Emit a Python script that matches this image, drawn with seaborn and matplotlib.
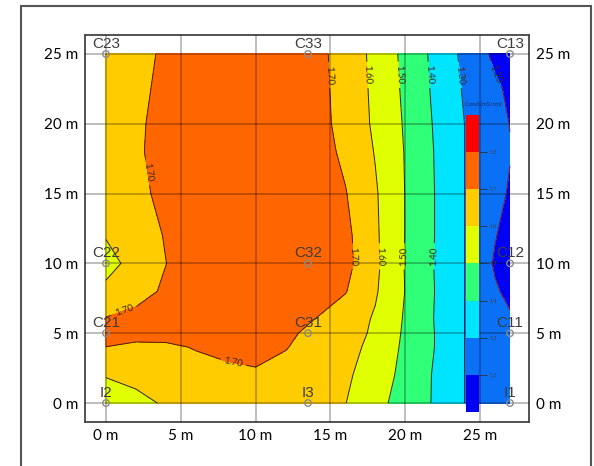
import numpy as np
import pandas as pd
import matplotlib
matplotlib.use("Agg")
import matplotlib.pyplot as plt
import matplotlib.patches as patches
import seaborn as sns

# Grid of conductivity readings (mS/cm)
x_m = [0, 2, 4, 6, 8, 10, 12, 14, 16, 18, 20, 22, 24, 26, 27]
y_m = [0, 2, 4, 5, 6, 8, 10, 12, 15, 18, 20, 22.5, 25]

cond_y0 = [1.55, 1.575, 1.61, 1.63, 1.645, 1.65, 1.645, 1.625, 1.602, 1.53, 1.46, 1.39, 1.298, 1.24, 1.22]
cond_y2 = [1.605, 1.625, 1.65, 1.665, 1.68, 1.69, 1.665, 1.64, 1.615, 1.555, 1.47, 1.39, 1.298, 1.24, 1.22]
cond_y4 = [1.699, 1.685, 1.685, 1.705, 1.72, 1.725, 1.705, 1.66, 1.63, 1.575, 1.48, 1.398, 1.298, 1.24, 1.22]
cond_y5 = [1.73, 1.725, 1.73, 1.735, 1.74, 1.74, 1.715, 1.68, 1.64, 1.585, 1.485, 1.398, 1.298, 1.24, 1.22]
cond_y6 = [1.705, 1.72, 1.73, 1.74, 1.74, 1.74, 1.725, 1.699, 1.65, 1.59, 1.49, 1.395, 1.298, 1.23, 1.21]
cond_y8 = [1.64, 1.675, 1.71, 1.74, 1.75, 1.75, 1.75, 1.74, 1.705, 1.61, 1.498, 1.398, 1.298, 1.21, 1.18]
cond_y10 = [1.54, 1.66, 1.699, 1.74, 1.75, 1.75, 1.75, 1.75, 1.73, 1.62, 1.495, 1.395, 1.298, 1.19, 1.15]
cond_y12 = [1.61, 1.66, 1.705, 1.74, 1.75, 1.75, 1.75, 1.75, 1.725, 1.615, 1.498, 1.398, 1.298, 1.205, 1.165]
cond_y15 = [1.65, 1.685, 1.715, 1.74, 1.75, 1.75, 1.75, 1.75, 1.705, 1.61, 1.498, 1.398, 1.298, 1.23, 1.19]
cond_y18 = [1.66, 1.69, 1.725, 1.74, 1.75, 1.75, 1.75, 1.745, 1.68, 1.595, 1.495, 1.395, 1.298, 1.235, 1.205]
cond_y20 = [1.66, 1.69, 1.72, 1.74, 1.75, 1.75, 1.75, 1.74, 1.665, 1.585, 1.49, 1.39, 1.298, 1.23, 1.198]
cond_y22 = [1.66, 1.685, 1.715, 1.735, 1.745, 1.75, 1.75, 1.735, 1.662, 1.58, 1.482, 1.382, 1.288, 1.215, 1.185]
cond_y25 = [1.66, 1.68, 1.71, 1.73, 1.74, 1.75, 1.75, 1.73, 1.66, 1.575, 1.475, 1.375, 1.275, 1.18, 1.13]

# Sampling points
point_names = ["C23", "C33", "C13", "C22", "C32", "C12", "C21", "C31", "C11", "I2", "I3", "I1"]
point_x = [0, 13.5, 27, 0, 13.5, 27, 0, 13.5, 27, 0, 13.5, 27]
point_y = [25, 25, 25, 10, 10, 10, 5, 5, 5, 0, 0, 0]

levels = [1.0, 1.2, 1.3, 1.4, 1.5, 1.6, 1.7, 1.8, 2.0]
line_levels = [1.2, 1.3, 1.4, 1.5, 1.6, 1.7]
band_colors = ["#0000f5", "#0a70f5", "#00e5ff", "#30ff78", "#e0ff00",
               "#ffcc00", "#ff6600", "#ff0000"]

sns.set_style("white")
plt.rcParams["font.family"] = ["Lato", "DejaVu Sans"]

Z = np.array([cond_y0, cond_y2, cond_y4, cond_y5, cond_y6, cond_y8, cond_y10,
              cond_y12, cond_y15, cond_y18, cond_y20, cond_y22, cond_y25])

fig = plt.figure(figsize=(5.94, 4.66), dpi=100)
ax = fig.add_axes([85 / 594, 1 - 422 / 466, 444 / 594, 387 / 466])

cf = ax.contourf(x_m, y_m, Z, levels=levels, colors=band_colors, zorder=1)
cl = ax.contour(x_m, y_m, Z, levels=line_levels,
                colors=["#7a1030", "#2a2a2a", "#2a2a2a", "#2a2a2a", "#2a2a2a", "#4a2000"],
                linewidths=0.7, zorder=2)
label_spots = [(15.0, 23.5), (17.5, 23.5), (19.5, 23.5), (21.5, 23.5), (23.6, 23.5),
               (25.8, 23.5), (2.7, 16.5), (1.3, 6.3), (8.5, 2.8),
               (16.5, 10.5), (18.3, 10.5), (20.1, 10.5), (22.0, 10.5)]
ax.clabel(cl, fmt="%.2f", fontsize=7, colors="#3a2a20", manual=label_spots, inline=True)

# sampling points
pts = pd.DataFrame({"x": point_x, "y": point_y, "name": point_names})
sns.scatterplot(data=pts, x="x", y="y", ax=ax, s=22, marker="o",
                facecolor="none", edgecolor="#8a8a8a", linewidth=1.0, zorder=6, legend=False)
for _, r in pts.iterrows():
    ax.annotate(r["name"], (r["x"], r["y"]), xytext=(0, 2.5), textcoords="offset points",
                ha="center", va="bottom", fontsize=11, color="#3c3c3c",
                family=["Liberation Sans", "DejaVu Sans"], zorder=7)

ax.set_xlim(-1.4, 28.27)
ax.set_ylim(-1.36, 26.36)
ax.set_xticks([0, 5, 10, 15, 20, 25])
ax.set_yticks([0, 5, 10, 15, 20, 25])
ax.set_xticklabels(["0 m", "5 m", "10 m", "15 m", "20 m", "25 m"])
ax.set_yticklabels(["0 m", "5 m", "10 m", "15 m", "20 m", "25 m"])
ax.tick_params(axis="both", length=0, labelsize=11, colors="black", pad=5)
ax.tick_params(axis="y", labelright=True)
ax.set_xlabel("")
ax.set_ylabel("")
ax.set_axisbelow(False)
ax.grid(True, color="black", alpha=0.3, linewidth=1.2)
for sp in ax.spines.values():
    sp.set_color("#444444")
    sp.set_linewidth(1.3)

# colour scale drawn inside the map
cax = ax.inset_axes([24.06, -0.64, 0.87, 21.27], transform=ax.transData)
cb = fig.colorbar(cf, cax=cax, ticks=[1.2, 1.3, 1.4, 1.5, 1.6, 1.7, 1.8], spacing="uniform")
cb.outline.set_visible(False)
cb.ax.tick_params(length=6, width=0.6, color="#333333", labelsize=3.8,
                  labelcolor="#444444", pad=1.5)
cb.ax.set_yticklabels(["1.2", "1.3", "1.4", "1.5", "1.6", "1.7", "1.8"])
ax.text(25.2, 21.4, "Cond (mS/cm)", fontsize=4.2, color="#1a2a60",
        ha="center", va="center", zorder=8)

# outer border of the picture
fig.patches.append(patches.Rectangle((21 / 594, -0.02), 570 / 594, 1 - 6 / 466 + 0.02,
                                     transform=fig.transFigure, fill=False,
                                     edgecolor="#555555", linewidth=1.5))

fig.savefig("out.png", dpi=100)
